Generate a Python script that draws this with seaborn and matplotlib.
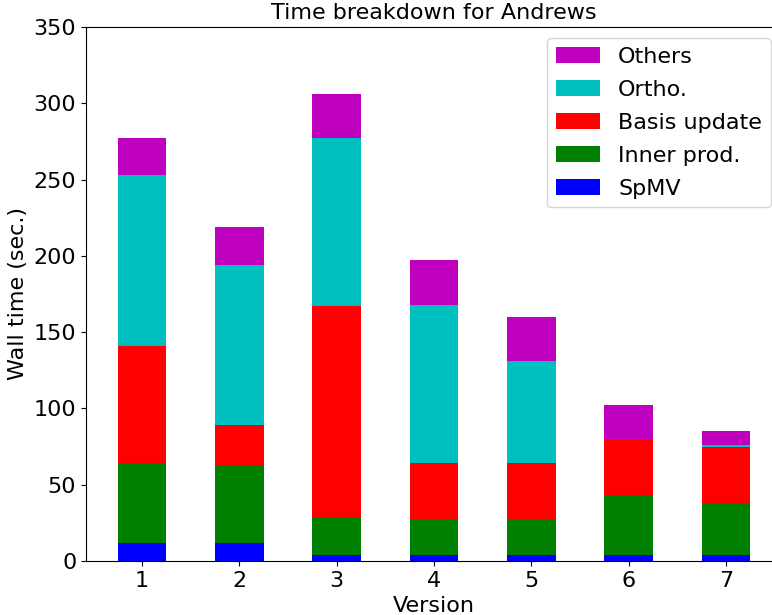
import matplotlib
matplotlib.use("Agg")
import matplotlib.pyplot as plt
import numpy as np
import pandas as pd
import seaborn as sns

# Data (seconds per component, per version)
versions = ["1", "2", "3", "4", "5", "6", "7"]
spmv = [12, 12, 4, 4, 4, 4, 4]
inner_prod = [52, 50, 24, 23, 23, 39, 34]
basis_update = [77, 27, 139, 37, 37, 37, 37]
ortho = [112, 105, 110, 104, 67, 0, 0.8]
others = [24, 25, 29, 29, 29, 22, 9.5]

labels = ["SpMV", "Inner prod.", "Basis update", "Ortho.", "Others"]
colors = ["b", "g", "r", "c", "m"]

df = pd.DataFrame({
    "Version": versions,
    "SpMV": spmv,
    "Inner prod.": inner_prod,
    "Basis update": basis_update,
    "Ortho.": ortho,
    "Others": others,
})

# cumulative totals, drawn from the top layer down so each bar covers the next
cum = df[labels].cumsum(axis=1)

plt.rcParams["font.size"] = 16
fig = plt.figure(figsize=(7.72, 6.15), dpi=100)
ax = fig.add_axes([86 / 772, 54 / 615, 696 / 772, 534 / 615])

for lab, col in zip(labels[::-1], colors[::-1]):
    sns.barplot(x=df["Version"], y=cum[lab], color=col, saturation=1,
                width=0.5, errorbar=None, label=lab, ax=ax)

ax.set_xlim(-0.575, 6.575)
ax.set_ylim(0, 350)
ax.set_yticks(np.arange(0, 351, 50))
ax.set_title("Time breakdown for Andrews", fontsize=16)
ax.set_xlabel("Version", fontsize=16)
ax.set_ylabel("Wall time (sec.)", fontsize=16)
ax.tick_params(labelsize=16)
ax.legend(loc="upper right", fontsize=16, labelspacing=0.58)

plt.savefig("out.png", dpi=100)
